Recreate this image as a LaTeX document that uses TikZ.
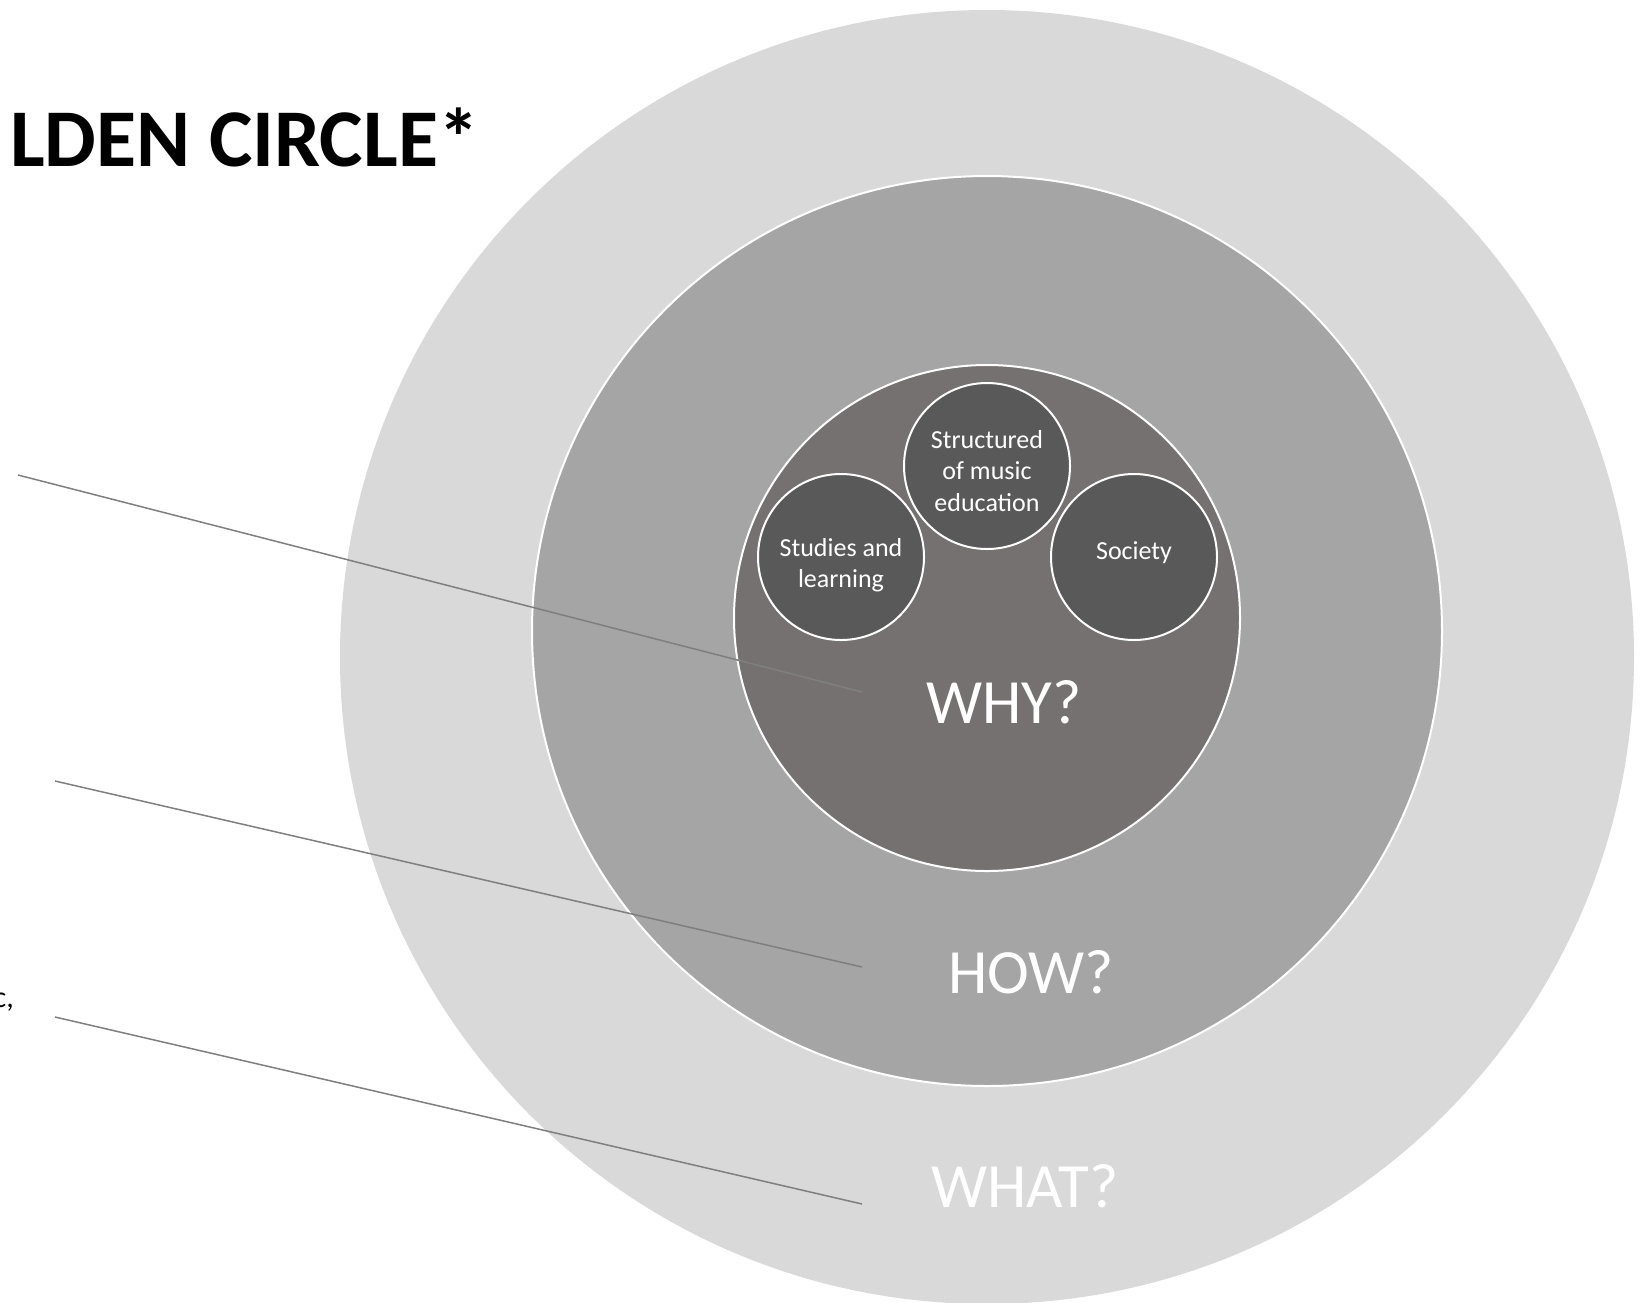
\documentclass[tikz,border=0pt]{standalone}
\usepackage{fontspec}
\setmainfont{Carlito}
\usetikzlibrary{positioning}
\definecolor{outergray}{HTML}{D9D9D9}
\definecolor{midgray}{HTML}{A5A5A5}
\definecolor{innergray}{HTML}{767171}
\definecolor{topicgray}{HTML}{595959}
\definecolor{pointergray}{HTML}{7F7F7F}

\begin{document}
\begin{tikzpicture}[x=1pt,y=-1pt,
  ring/.style={draw=white,line width=2pt},
  topic/.style={circle,draw=white,line width=2pt,fill=topicgray,
    minimum size=166pt,inner sep=0pt},
  topictext/.style={align=center,inner sep=0pt,text=white,
    font=\fontsize{26}{31.5}\selectfont},
  layer/.style={anchor=base,inner sep=0pt,text=white,
    font=\fontsize{63}{75}\selectfont},
  pointer/.style={pointergray,line width=1.5pt}]
  % Configurable parameters
  \def\cx{987}
  \def\outerR{647}
  \def\midR{455}
  \def\innerR{253}
  %
  % Frame
  \useasboundingbox (0,0) rectangle (1648,1302);
  %
  % Rings
  \fill[outergray] (\cx,657) circle [radius=\outerR];
  \draw[ring,fill=midgray] (\cx,631) circle [radius=\midR];
  \draw[ring,fill=innergray] (\cx,618) circle [radius=\innerR];
  %
  % Topics
  \node[topic] (studies) at (841,557) {};
  \node[topic] (structured) at (987,466) {};
  \node[topic] (society) at (1134,557) {};
  \node[topictext] (studiestext) at ([yshift=-8]studies.center) {Studies and\\learning};
  \node[topictext] (structuredtext) at ([yshift=-5]structured.center) {Structured\\of music\\education};
  \node[topictext] (societytext) at ([yshift=4]society.center) {Society};
  %
  % Pointers
  \coordinate (whystart) at (18,475);
  \coordinate (whyend) at (862,692);
  \coordinate (howstart) at (55,781);
  \coordinate (howend) at (862,967);
  \coordinate (whatstart) at (55,1017);
  \coordinate (whatend) at (862,1204);
  \draw[pointer] (whystart) -- (whyend);
  \draw[pointer] (howstart) -- (howend);
  \draw[pointer] (whatstart) -- (whatend);
  %
  % Layer labels
  \node[layer] (why) at (1004,723) {WHY?};
  \node[layer] (how) at (1031,993) {HOW?};
  \node[layer] (what) at (1025,1207) {WHAT?};
  %
  % Title and cut text
  \node[anchor=base east,inner sep=0pt,font=\bfseries\fontsize{82}{98}\selectfont]
    (title) at (479,166) {LDEN CIRCLE*};
  \node[anchor=base east,inner sep=0pt,font=\fontsize{30}{36}\selectfont]
    (cut) at (14,1007) {c,};
  %
\end{tikzpicture}
\end{document}
